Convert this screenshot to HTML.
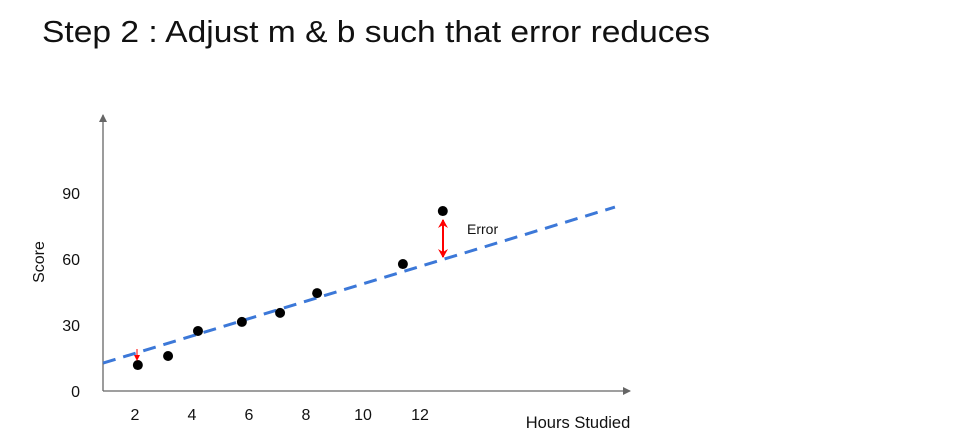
<!DOCTYPE html>
<html><head><meta charset="utf-8"><style>
html,body{margin:0;padding:0;background:#fff;width:960px;height:438px;overflow:hidden}
svg{display:block;font-family:"Liberation Sans",sans-serif}
</style></head><body>
<svg id="chart" width="960" height="438">
<defs>
<marker id="ah" markerWidth="8" markerHeight="8" refX="7" refY="4" orient="auto" markerUnits="userSpaceOnUse"><path d="M0,0 L8,4 L0,8 Z" fill="#666"/></marker>
<marker id="rh" markerWidth="10" markerHeight="10" refX="8" refY="5" orient="auto-start-reverse" markerUnits="userSpaceOnUse"><path d="M0,0 L9,5 L0,10 L3,5 Z" fill="#f00"/></marker>
<marker id="rs" markerWidth="6" markerHeight="6" refX="5" refY="3" orient="auto" markerUnits="userSpaceOnUse"><path d="M0,0 L6,3 L0,6 Z" fill="#f00"/></marker>
</defs>
<text x="42" y="42" font-size="31" fill="#111" textLength="668" lengthAdjust="spacingAndGlyphs">Step 2 : Adjust m &amp; b such that error reduces</text>
<g id="plot"></g>
</svg>
<script>
const xTicks=[2,4,6,8,10,12];
const yTicks=[0,30,60,90];
const hours=[2.1,3.16,4.21,5.75,7.09,8.39,11.4,12.8];
const scores=[11.8,15.9,27.3,31.4,35.5,44.5,57.7,81.8];
const lineX=[0.88,18.84];
const lineY=[12.7,83.6];
const xs=v=>78+28.5*v, ys=v=>391-2.2*v;
const NS="http://www.w3.org/2000/svg", g=document.getElementById('plot');
function mk(t,a){const e=document.createElementNS(NS,t);for(const k in a)e.setAttribute(k,a[k]);g.appendChild(e);return e;}
let e;
e=mk('line',{x1:103,y1:391,x2:103,y2:115,stroke:'#666','stroke-width':1.3,'marker-end':'url(#ah)'});


e=mk('line',{x1:103,y1:391,x2:630,y2:391,stroke:'#666','stroke-width':1.3,'marker-end':'url(#ah)'});


xTicks.forEach(v=>{e=mk('text',{x:xs(v),y:420,'font-size':16,'text-anchor':'middle',fill:'#111'});e.textContent=v;

});
yTicks.forEach(v=>{e=mk('text',{x:80,y:ys(v)+6,'font-size':16,'text-anchor':'end',fill:'#111'});e.textContent=v;

});
e=mk('text',{x:578,y:428,'font-size':16.5,'text-anchor':'middle',fill:'#111'});e.textContent='Hours Studied';


e=mk('text',{x:44,y:262,'font-size':16,'text-anchor':'middle',fill:'#111',transform:'rotate(-90 44 262)'});e.textContent='Score';


e=mk('line',{x1:xs(lineX[0]),y1:ys(lineY[0]),x2:xs(lineX[1]),y2:ys(lineY[1]),stroke:'#3c78d8','stroke-width':3,'stroke-dasharray':'13 8'});


hours.forEach((h,i)=>{e=mk('circle',{cx:xs(h),cy:ys(scores[i]),r:5,fill:'#000'});

});
e=mk('line',{x1:443,y1:220,x2:443,y2:257,stroke:'#f00','stroke-width':2,'marker-start':'url(#rh)','marker-end':'url(#rh)'});


e=mk('line',{x1:137,y1:349,x2:137,y2:360,stroke:'#f00','stroke-width':1,'marker-end':'url(#rs)'});


e=mk('text',{x:467,y:234,'font-size':14,fill:'#111'});e.textContent='Error';


</script>
</body></html>
